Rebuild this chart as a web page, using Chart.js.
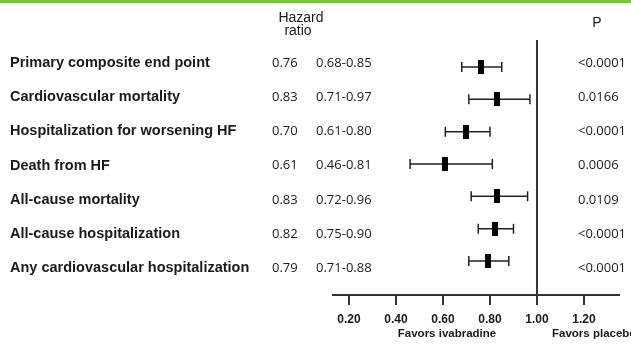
<!DOCTYPE html>
<html>
<head>
<meta charset="utf-8">
<script src="https://cdn.jsdelivr.net/npm/chart.js@4/dist/chart.umd.min.js"></script>
<style>
    html, body { margin: 0; padding: 0; background: #fff; }
    #wrap { position: relative; width: 631px; height: 346px; }
    #bar { position: absolute; left: 0; top: 0; width: 631px; height: 3px; background: #7cc242; }
</style>
</head>
<body>
<div id="wrap">
    <canvas id="forest" width="631" height="346"></canvas>
    <div id="bar"></div>
</div>
<script>
// endpoints, hazard ratios, 95% CI, p values
const endpoints = [
    'Primary composite end point',
    'Cardiovascular mortality',
    'Hospitalization for worsening HF',
    'Death from HF',
    'All-cause mortality',
    'All-cause hospitalization',
    'Any cardiovascular hospitalization'
];
const hazardRatio = [0.76, 0.83, 0.70, 0.61, 0.83, 0.82, 0.79];
const ciLow = [0.68, 0.71, 0.61, 0.46, 0.72, 0.75, 0.71];
const ciHigh = [0.85, 0.97, 0.80, 0.81, 0.96, 0.90, 0.88];
const pValues = ['<0.0001', '0.0166', '<0.0001', '0.0006', '0.0109', '<0.0001', '<0.0001'];
const xTicks = [0.20, 0.40, 0.60, 0.80, 1.00, 1.20];

// box marker
const box = document.createElement('canvas');
box.width = 6;
box.height = 14;
const bctx = box.getContext('2d');
bctx.fillStyle = '#000';
bctx.fillRect(0, 0, 6, 14);

const points = hazardRatio.map(function (v, i) { return { x: v, y: i + 1 }; });

// the text table is spaced a bit wider than the plot rows
const textTop = 63;
const textStep = 34.2;

const forestPlugin = {
    id: 'forest',
    beforeDatasetsDraw: function (chart) {
        const ctx = chart.ctx;
        const xs = chart.scales.x;
        const ys = chart.scales.y;
        ctx.save();
        ctx.strokeStyle = '#222';
        ctx.lineWidth = 1.5;
        for (let i = 0; i < hazardRatio.length; i++) {
            const y = ys.getPixelForValue(i + 1);
            const x1 = xs.getPixelForValue(ciLow[i]);
            const x2 = xs.getPixelForValue(ciHigh[i]);
            ctx.beginPath();
            ctx.moveTo(x1, y);
            ctx.lineTo(x2, y);
            ctx.moveTo(x1, y - 5);
            ctx.lineTo(x1, y + 5);
            ctx.moveTo(x2, y - 5);
            ctx.lineTo(x2, y + 5);
            ctx.stroke();
        }
        ctx.restore();
    },
    afterDraw: function (chart) {
        const ctx = chart.ctx;
        ctx.save();
        ctx.fillStyle = '#1a1a1a';
        ctx.textBaseline = 'middle';
        for (let i = 0; i < endpoints.length; i++) {
            const y = textTop + i * textStep;
            ctx.textAlign = 'left';
            ctx.font = 'bold 14.5px "Liberation Sans", Arial, sans-serif';
            ctx.fillText(endpoints[i], 10, y);
            ctx.font = '13px "Open Sans", sans-serif';
            ctx.fillText(hazardRatio[i].toFixed(2), 272, y);
            ctx.fillText(ciLow[i].toFixed(2) + '-' + ciHigh[i].toFixed(2), 316, y);
            ctx.fillText(pValues[i], 578, y);
        }
        // headers
        ctx.font = '14px "Liberation Sans", Arial, sans-serif';
        ctx.textAlign = 'center';
        ctx.fillText('Hazard', 301, 18);
        ctx.fillText('ratio', 298, 31);
        ctx.fillText('P', 597, 23);
        // favors labels
        ctx.font = 'bold 11.5px "Liberation Sans", Arial, sans-serif';
        ctx.fillText('Favors ivabradine', 447, 334);
        ctx.textAlign = 'left';
        ctx.fillText('Favors placebo', 552, 334);
        ctx.restore();
    }
};

const yMin = 0.165;
const yMax = 8.05;

let forest = new Chart(document.getElementById('forest'), {
    type: 'scatter',
    data: {
        datasets: [{
            label: 'Hazard ratio',
            data: points,
            pointStyle: box,
            pointRadius: 7,
            pointHoverRadius: 7
        }, {
            type: 'line',
            label: 'No effect',
            data: [{ x: 1, y: yMin }, { x: 1, y: yMax }],
            borderColor: '#333',
            borderWidth: 2,
            pointRadius: 0,
            fill: false
        }]
    },
    options: {
        responsive: false,
        animation: false,
        devicePixelRatio: 1,
        layout: { padding: { left: 333, right: 12, top: 40, bottom: 0 } },
        plugins: {
            legend: { display: false },
            tooltip: { enabled: false }
        },
        scales: {
            x: {
                type: 'linear',
                min: 0.132,
                max: 1.349,
                afterFit: function (s) { s.height = 51; },
                afterBuildTicks: function (s) {
                    s.ticks = xTicks.map(function (v) { return { value: v }; });
                },
                border: { color: '#333', width: 2 },
                grid: {
                    drawOnChartArea: false,
                    drawTicks: true,
                    tickLength: 10,
                    color: '#333',
                    lineWidth: 2
                },
                ticks: {
                    padding: 7,
                    color: '#1a1a1a',
                    font: { family: '"Liberation Sans", Arial, sans-serif', size: 12, weight: 'bold' },
                    callback: function (v) { return Number(v).toFixed(2); }
                }
            },
            y: {
                type: 'linear',
                display: false,
                reverse: true,
                min: yMin,
                max: yMax
            }
        }
    },
    plugins: [forestPlugin]
});
</script>
</body>
</html>
